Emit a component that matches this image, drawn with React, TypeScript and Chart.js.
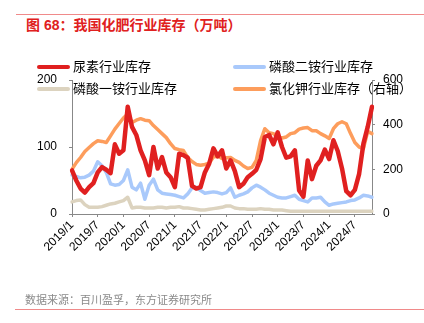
import React, { useEffect, useRef } from "react";
import { Chart, registerables } from "chart.js";

Chart.register(...registerables);

const months: string[] = [];
for (let y = 2019; y <= 2024; y++) {
  for (let m = 1; m <= 12; m++) {
    if (y === 2024 && m > 11) break;
    months.push(`${y}/${m}`);
  }
}

const ureaStock = [
  65, 50, 38, 32, 40, 46, 62, 70, 66, 61, 104, 90, 95, 160, 130, 118, 95, 80, 58, 100,
  68, 85, 62, 55, 40, 90, 88, 84, 42, 38, 40, 62, 75, 98, 86, 95, 68, 80, 64, 40,
  45, 55, 60, 66, 82, 115, 118, 104, 122, 100, 84, 86, 95, 35, 26, 80, 52, 72, 80, 96,
  82, 110, 94, 68, 34, 28, 36, 60, 105, 130, 160,
];

const dapStock = [
  58, 56, 54, 55, 58, 64, 78, 72, 62, 45, 43, 44, 50, 66, 40, 36, 46, 22, 43, 52,
  36, 31, 30, 29, 28, 26, 24, 30, 39, 40, 35, 31, 32, 33, 32, 30, 32, 39, 25, 28,
  30, 33, 39, 43, 40, 36, 31, 28, 25, 24, 24, 26, 28, 22, 20, 18, 24, 24, 25, 18,
  13, 15, 16, 17, 18, 20, 21, 24, 28, 27, 25,
];

const mapStock = [
  18, 20, 21, 14, 10, 10, 10, 11, 13, 15, 16, 18, 20, 25, 9, 10, 10, 9, 9, 9,
  10, 10, 9, 10, 10, 11, 9, 9, 8, 7, 6, 6, 7, 8, 9, 10, 12, 12, 9, 8,
  8, 7, 7, 7, 8, 7, 7, 6, 6, 6, 5, 4, 4, 4, 4, 4, 4, 4, 4, 4,
  4, 4, 4, 4, 4, 4, 4, 4, 4, 4, 4,
];

const potashStock = [
  200, 230, 253, 280, 298, 315, 328, 325, 320, 350, 380, 405, 430, 448, 410, 420, 427, 420, 418, 396,
  378, 360, 342, 315, 293, 288, 284, 253, 235, 222, 218, 222, 227, 255, 260, 249, 252, 253, 240, 231,
  215, 204, 209, 240, 329, 382, 364, 360, 345, 340, 345, 360, 364, 380, 385, 387, 373, 373, 360, 350,
  338, 382, 404, 413, 404, 360, 320, 300, 293, 370, 360,
];

const leftTicks = [0, 100, 200];
const rightTicks = [0, 200, 400, 600];

const FONT = "Arial, 'Liberation Sans', 'Noto Sans CJK SC', sans-serif";

const legendItems = [
  { label: "尿素行业库存", color: "#e02020", x: 37, y: 67 },
  { label: "磷酸二铵行业库存", color: "#a9c9fb", x: 233, y: 67 },
  { label: "磷酸一铵行业库存", color: "#dcd3bf", x: 37, y: 89 },
  { label: "氯化钾行业库存（右轴）", color: "#fd9d5c", x: 233, y: 89 },
];

export default function App() {
  const ref = useRef<HTMLCanvasElement | null>(null);

  useEffect(() => {
    if (!ref.current) return;
    const chart = new Chart(ref.current, {
      type: "line",
      data: {
        labels: months,
        datasets: [
          { label: "尿素行业库存", data: ureaStock, borderColor: "#e02020", borderWidth: 4.5, yAxisID: "y", order: 0 },
          { label: "氯化钾行业库存（右轴）", data: potashStock, borderColor: "#fd9d5c", borderWidth: 3.5, yAxisID: "y1", order: 1 },
          { label: "磷酸二铵行业库存", data: dapStock, borderColor: "#a9c9fb", borderWidth: 3.5, yAxisID: "y", order: 2 },
          { label: "磷酸一铵行业库存", data: mapStock, borderColor: "#dcd3bf", borderWidth: 3.5, yAxisID: "y", order: 3 },
        ].map((d) => ({ ...d, pointRadius: 0, tension: 0, fill: false, borderJoinStyle: "round" as const, borderCapStyle: "round" as const })),
      },
      options: {
        animation: false,
        responsive: false,
        maintainAspectRatio: false,
        layout: { padding: { left: 32, right: 12, top: 80, bottom: 49 } },
        plugins: { legend: { display: false }, tooltip: { enabled: false } },
        scales: {
          x: {
            type: "category",
            offset: false,
            grid: { display: true, drawOnChartArea: false, tickLength: 3, color: "#888" },
            border: { display: true, color: "#888" },
            afterBuildTicks: (scale: any) => {
              scale.ticks = scale.ticks.filter((t: any) => t.value % 6 === 0);
            },
            afterFit: (scale: any) => {
              scale.height = 60;
            },
            ticks: {
              autoSkip: false,
              maxRotation: 45,
              minRotation: 45,
              padding: 1,
              color: "#000",
              font: { family: FONT, size: 12 },
            },
          },
          y: {
            position: "left",
            min: 0,
            max: 200,
            afterBuildTicks: (scale: any) => {
              scale.ticks = leftTicks.map((v) => ({ value: v }));
            },
            afterFit: (scale: any) => {
              scale.width = 40;
            },
            grid: { display: true, drawOnChartArea: false, tickLength: 3, color: "#888" },
            border: { display: true, color: "#888" },
            ticks: { padding: 12, color: "#000", font: { family: FONT, size: 12 } },
          },
          y1: {
            position: "right",
            min: 0,
            max: 600,
            afterBuildTicks: (scale: any) => {
              scale.ticks = rightTicks.map((v) => ({ value: v }));
            },
            afterFit: (scale: any) => {
              scale.width = 40;
            },
            grid: { display: true, drawOnChartArea: false, tickLength: 3, color: "#888" },
            border: { display: true, color: "#888" },
            ticks: { padding: 8, color: "#000", font: { family: FONT, size: 12 } },
          },
        },
      },
    });
    return () => chart.destroy();
  }, []);

  return (
    <div style={{ position: "fixed", left: 0, top: 0, width: 424, height: 323, background: "#fff", overflow: "hidden", fontFamily: FONT }}>
      <div style={{ position: "absolute", left: 16, top: 14, width: 408, height: 1, background: "#f08a8a" }} />
      <div style={{ position: "absolute", left: 26, top: 16, fontSize: 14, fontWeight: "bold", color: "#e02020", lineHeight: "18px", whiteSpace: "nowrap" }}>
        图 68：我国化肥行业库存（万吨）
      </div>
      <canvas ref={ref} width={424} height={323} style={{ position: "absolute", left: 0, top: 0 }} />
      {legendItems.map((it) => (
        <div key={it.label} style={{ position: "absolute", left: it.x, top: it.y - 9, height: 18, display: "flex", alignItems: "center", whiteSpace: "nowrap" }}>
          <div style={{ width: 33, height: 4, borderRadius: 2, background: it.color, marginRight: 3 }} />
          <span style={{ fontSize: 13, color: "#000", lineHeight: "18px" }}>{it.label}</span>
        </div>
      ))}
      <div style={{ position: "absolute", left: 25, top: 292, fontSize: 11, color: "#8a8a8a", lineHeight: "16px", whiteSpace: "nowrap" }}>
        数据来源：百川盈孚，东方证券研究所
      </div>
      <div style={{ position: "absolute", left: 15, top: 309, width: 409, height: 1, background: "#f08a8a" }} />
    </div>
  );
}
